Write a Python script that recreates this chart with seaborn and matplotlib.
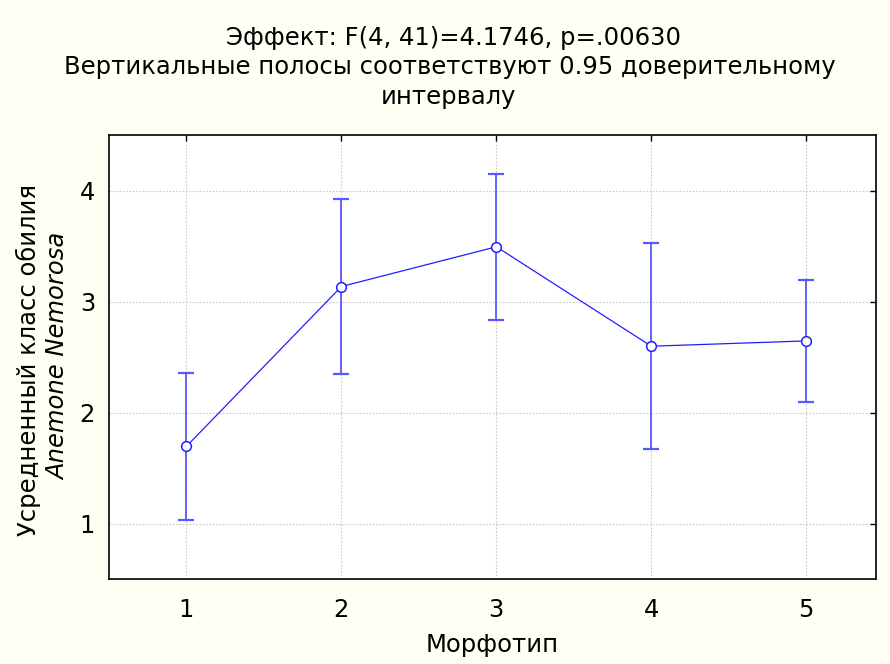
import matplotlib
matplotlib.use("Agg")
import matplotlib.pyplot as plt
import seaborn as sns
import pandas as pd

morphotype = [1, 2, 3, 4, 5]
mean_abund = [1.695, 3.135, 3.493, 2.597, 2.645]
ci_half = [0.661, 0.790, 0.658, 0.930, 0.553]
x_ticks = [1, 2, 3, 4, 5]
y_ticks = [1, 2, 3, 4]

title_lines = ["Эффект: F(4, 41)=4.1746, p=.00630",
               "Вертикальные полосы соответствуют 0.95 доверительному",
               "интервалу"]
ylabel1 = "Усредненный класс обилия"
ylabel2 = "Anemone Nemorosa"
xlabel = "Морфотип"

sns.set_theme(style="white")
plt.rcParams['font.family'] = ['DejaVu Sans']
plt.rcParams['text.color'] = 'black'

FS = 17.5
df = pd.DataFrame({"x": morphotype, "y": mean_abund, "ci": ci_half})

fig = plt.figure(figsize=(8.9, 6.64), dpi=100, facecolor="#FFFFF4")
ax = fig.add_axes([109/890, 1-579/664, (876-109)/890, (579-135)/664])
ax.set_facecolor("white")

ax.errorbar(df["x"], df["y"], yerr=df["ci"], fmt="none", ecolor="#5858FF",
            elinewidth=1.3, capsize=6, capthick=1.6, zorder=2)
sns.lineplot(data=df, x="x", y="y", ax=ax, color="#2020FF", linewidth=0.9,
             marker="o", markersize=7, markerfacecolor="white",
             markeredgecolor="#2020FF", markeredgewidth=1.1, zorder=3)

ax.set_xlim(0.5, 5.45)
ax.set_ylim(0.5, 4.5)
ax.set_xticks(x_ticks)
ax.set_yticks(y_ticks)
ax.set_xticklabels([str(v) for v in x_ticks])
ax.set_yticklabels([str(v) for v in y_ticks])
ax.tick_params(axis="both", direction="in", length=4, width=1, colors="black",
               labelsize=FS, top=True, right=True, pad=10, labelcolor="black")
ax.tick_params(axis="x", pad=14)
ax.grid(True, color="#C8C8C8", linestyle=(0, (1.5, 1.5)), linewidth=0.8)
for s in ax.spines.values():
    s.set_color("black")
    s.set_linewidth(1.2)
    s.set_visible(True)

ax.set_xlabel("")
ax.set_ylabel("")

fig.text(492/890, 1-645/664, xlabel, ha="center", va="center", fontsize=FS, color="black")
for ycen, xcen, line in zip([38, 67, 97], [453, 450, 449], title_lines):
    fig.text(xcen/890, 1-ycen/664, line, ha="center", va="center", fontsize=FS, color="black")
fig.text(28/890, 1-360/664, ylabel1, rotation=90, ha="center", va="center",
         fontsize=FS, color="black")
fig.text(58/890, 1-356/664, ylabel2, rotation=90, ha="center", va="center",
         fontsize=FS, style="italic", color="black")

fig.savefig("out.png", dpi=100, facecolor=fig.get_facecolor())
